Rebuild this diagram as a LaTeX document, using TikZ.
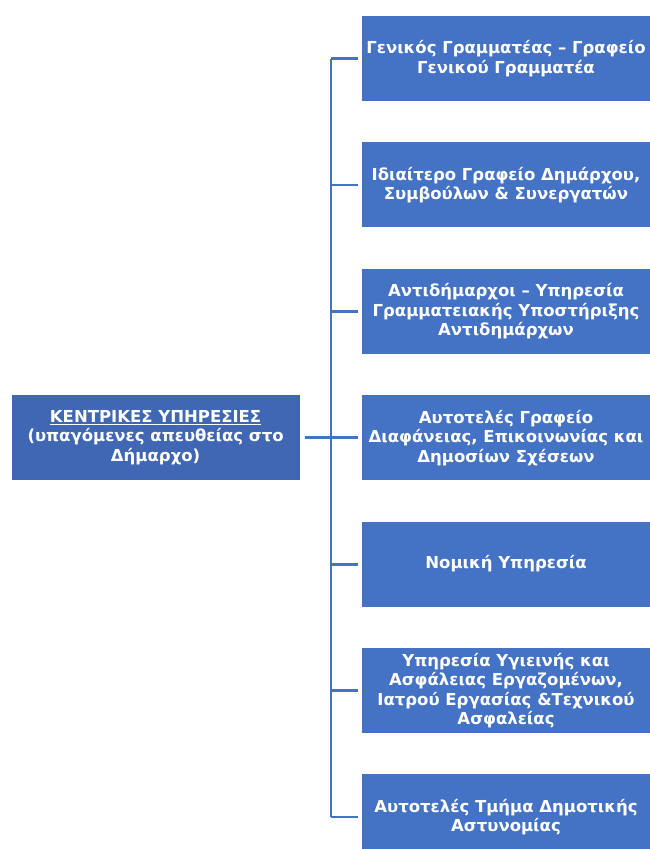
\documentclass[tikz,border=0pt]{standalone}
\usepackage{fontspec}
\setmainfont{DejaVu Sans}
\usetikzlibrary{positioning}
\definecolor{oblue}{HTML}{4472C4}
\definecolor{dblue}{HTML}{3F67B3}
\tikzstyle{unit} = [rectangle, minimum width=288pt, minimum height=85pt, inner sep=0pt, align=center, text=white, fill=oblue, font=\bfseries\fontsize{16.5}{19.5}\selectfont]
\tikzstyle{head} = [unit, fill=dblue]
\tikzstyle{link} = [line width=2.8pt, draw=oblue]

\begin{document}
\begin{tikzpicture}[x=1pt, y=-1pt, node distance=41pt]
  \useasboundingbox (0,0) rectangle (650,849);
  \node (gen) [unit] at (506,58.5) {Γενικός Γραμματέας – Γραφείο\\Γενικού Γραμματέα};
  \node (mayor) [unit, below = of gen] {Ιδιαίτερο Γραφείο Δημάρχου,\\Συμβούλων \& Συνεργατών};
  \node (deputy) [unit, below = of mayor] {Αντιδήμαρχοι – Υπηρεσία\\Γραμματειακής Υποστήριξης\\Αντιδημάρχων};
  \node (transp) [unit, below = of deputy] {Αυτοτελές Γραφείο\\Διαφάνειας, Επικοινωνίας και\\Δημοσίων Σχέσεων};
  \node (legal) [unit, below = of transp] {Νομική Υπηρεσία};
  \node (health) [unit, below = of legal] {Υπηρεσία Υγιεινής και\\Ασφάλειας Εργαζομένων,\\Ιατρού Εργασίας \&Τεχνικού\\Ασφαλείας};
  \node (police) [unit, below = of health] {Αυτοτελές Τμήμα Δημοτικής\\Αστυνομίας};
  \node (central) [head, left = 62pt of transp] {\underline{ΚΕΝΤΡΙΚΕΣ ΥΠΗΡΕΣΙΕΣ}\\(υπαγόμενες απευθείας στο\\Δήμαρχο)};
  % trunk line
  \coordinate (bus) at (331,0);
  \draw [link] (gen.west -| bus) -- (police.west -| bus);
  \foreach \n in {gen, mayor, deputy, transp, legal, health, police}
    \draw [link, shorten >=4pt] (\n.west -| bus) -- (\n.west);
  \draw [link, shorten <=5pt] (central.east) -- (central.east -| bus);
\end{tikzpicture}
\end{document}
